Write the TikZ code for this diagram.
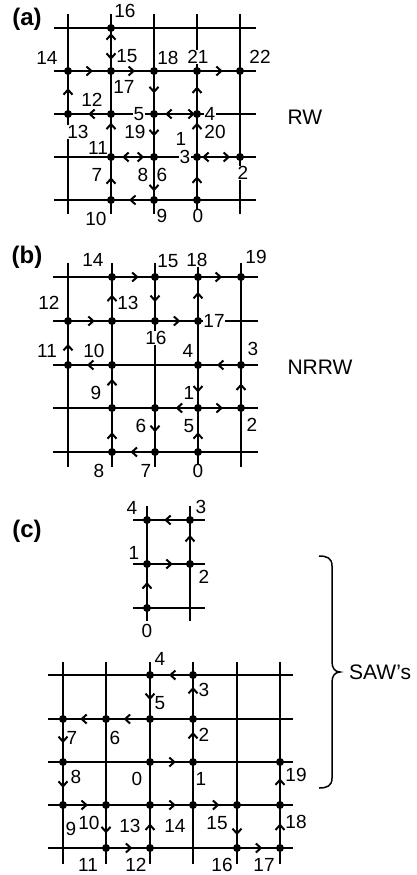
\documentclass[tikz,border=0pt]{standalone}
\usepackage{fontspec}
\setmainfont{Liberation Sans}
\usetikzlibrary{calc,arrows.meta}

% one step of a walk: line from a site to a fraction of the way to the next site
\newcommand\wstep[3][0.6]{\draw[walk] (#2) -- ($(#2)!#1!(#3)$);}
% a step taken forth and back along the same bond
\newcommand\wback[4]{\draw[walkback] ($(#1)!#3!(#2)$) -- ($(#1)!#4!(#2)$);}

\tikzset{
  grid/.style={line width=2pt},
  barb/.tip={Straight Barb[length=5pt,width=9pt]},
  walk/.style={line width=2pt,-barb},
  walkback/.style={line width=2pt,barb-barb},
  lab/.style={fill=white,inner sep=0.4pt,font=\fontsize{19}{19}\selectfont},
  title/.style={inner sep=0pt,font=\fontsize{21}{21}\selectfont},
  panel/.style={inner sep=0pt,font=\fontsize{24}{24}\selectfont\bfseries},
  site/.style={radius=4pt},
}

\begin{document}
\begin{tikzpicture}[x=1pt,y=-1pt]
\useasboundingbox (0,0) rectangle (416,875);

% ---------------- lattice sites ----------------
\foreach \i/\x in {0/68,1/111,2/154,3/197,4/240}
  \foreach \j/\y in {0/28,1/71,2/114,3/157,4/200}
    \coordinate (pa-\i-\j) at (\x,\y);
\foreach \i/\x in {0/68,1/112,2/155,3/198,4/241}
  \foreach \j/\y in {0/277,1/321,2/365,3/408,4/452}
    \coordinate (pb-\i-\j) at (\x,\y);
\foreach \i/\x in {0/147,1/190}
  \foreach \j/\y in {0/520,1/564,2/608}
    \coordinate (pc-\i-\j) at (\x,\y);
\foreach \i/\x in {0/63,1/106,2/150,3/193,4/237,5/280}
  \foreach \j/\y in {0/675,1/719,2/762,3/805,4/848}
    \coordinate (pd-\i-\j) at (\x,\y);

% ---------------- grid lines ----------------
\foreach \j in {0,...,4} \draw[grid] ([xshift=-14pt]pa-0-\j) -- ([xshift=16pt]pa-4-\j);
\foreach \i in {0,...,4} \draw[grid] ([yshift=14pt]pa-\i-0) -- ([yshift=-14pt]pa-\i-4);
\foreach \j in {0,...,4} \draw[grid] ([xshift=-15pt]pb-0-\j) -- ([xshift=17pt]pb-4-\j);
\foreach \i in {0,...,4} \draw[grid] ([yshift=14pt]pb-\i-0) -- ([yshift=-15pt]pb-\i-4);
\foreach \j in {0,...,2} \draw[grid] ([xshift=-14pt]pc-0-\j) -- ([xshift=15pt]pc-1-\j);
\foreach \i in {0,1} \draw[grid] ([yshift=14pt]pc-\i-0) -- ([yshift=-13pt]pc-\i-2);
\foreach \j in {0,...,4} \draw[grid] ([xshift=-15pt]pd-0-\j) -- ([xshift=13pt]pd-5-\j);
\foreach \i in {0,...,5} \draw[grid] ([yshift=13pt]pd-\i-0) -- ([yshift=-16pt]pd-\i-4);

% ---------------- panel (a): random walk ----------------
\node[panel] (pa) at (27,19) {(a)};
\node[title] (rw) at (305,117) {RW};
\node[lab] (la16) at (125,11) {16};
\node[lab] (la14) at (47,58) {14};
\node[lab] (la15) at (127,56) {15};
\node[lab] (la18) at (168,58) {18};
\node[lab] (la21) at (198,57) {21};
\node[lab] (la22) at (260,57) {22};
\node[lab] (la17) at (124,87) {17};
\node[lab] (la12) at (92,100) {12};
\node[lab] (la5) at (139,114) {5};
\node[lab] (la4) at (210,114) {4};
\node[lab] (la13) at (78,132) {13};
\node[lab] (la19) at (135,132) {19};
\node[lab] (la1) at (181,139) {1};
\node[lab] (la20) at (215,132) {20};
\node[lab] (la11) at (98,148) {11};
\node[lab] (la3) at (185,157) {3};
\node[lab] (la7) at (97,175) {7};
\node[lab] (la8) at (143,175) {8};
\node[lab] (la6) at (162,175) {6};
\node[lab] (la2) at (243,173) {2};
\node[lab] (la10) at (96,219) {10};
\node[lab] (la9) at (162,216) {9};
\node[lab] (la0) at (198,216) {0};

\wstep[0.55]{pa-3-4}{pa-3-3}
\wback{pa-3-3}{pa-4-3}{0.12}{0.77}
\wstep[0.8]{pa-3-3}{pa-3-2}
\wback{pa-2-2}{pa-3-2}{0.26}{0.95}
\wstep[0.52]{pa-2-2}{pa-2-3}
\wback{pa-1-3}{pa-2-3}{0.26}{0.77}
\wstep[0.8]{pa-2-3}{pa-2-4}
\wstep[0.58]{pa-2-4}{pa-1-4}
\wstep[0.53]{pa-1-4}{pa-1-3}
\wstep[0.8]{pa-1-3}{pa-1-2}
\wstep[0.53]{pa-1-2}{pa-0-2}
\wstep[0.6]{pa-0-2}{pa-0-1}
\wstep[0.58]{pa-0-1}{pa-1-1}
\wback{pa-1-0}{pa-1-1}{0.12}{0.74}
\wstep[0.56]{pa-1-1}{pa-2-1}
\wstep[0.52]{pa-2-1}{pa-2-2}
\wstep[0.64]{pa-3-2}{pa-3-1}
\wstep[0.6]{pa-3-1}{pa-4-1}
\foreach \s in {3-4,3-3,4-3,3-2,2-2,2-3,1-3,2-4,1-4,1-2,0-2,0-1,1-1,1-0,2-1,3-1,4-1}
  \fill[site] (pa-\s) circle;

% ---------------- panel (b): never-return random walk ----------------
\node[panel] (pb) at (27,257) {(b)};
\node[title] (nrrw) at (320,367) {NRRW};
\node[lab] (lb14) at (93,260) {14};
\node[lab] (lb15) at (168,261) {15};
\node[lab] (lb18) at (197,260) {18};
\node[lab] (lb19) at (256,257) {19};
\node[lab] (lb12) at (49,303) {12};
\node[lab] (lb13) at (128,303) {13};
\node[lab] (lb17) at (214,321) {17};
\node[lab] (lb16) at (156,338) {16};
\node[lab] (lb11) at (47,351) {11};
\node[lab] (lb10) at (94,351) {10};
\node[lab] (lb4) at (188,351) {4};
\node[lab] (lb3) at (253,349) {3};
\node[lab] (lb9) at (96,393) {9};
\node[lab] (lb1) at (189,393) {1};
\node[lab] (lb6) at (141,426) {6};
\node[lab] (lb5) at (189,426) {5};
\node[lab] (lb2) at (252,425) {2};
\node[lab] (lb8) at (99,471) {8};
\node[lab] (lb7) at (146,471) {7};
\node[lab] (lb0) at (198,471) {0};

\wstep[0.45]{pb-3-4}{pb-3-3}
\wstep[0.58]{pb-3-3}{pb-4-3}
\wstep[0.57]{pb-4-3}{pb-4-2}
\wstep[0.56]{pb-4-2}{pb-3-2}
\wstep[0.64]{pb-3-2}{pb-3-3}
\wstep[0.52]{pb-3-3}{pb-2-3}
\wstep[0.55]{pb-2-3}{pb-2-4}
\wstep[0.57]{pb-2-4}{pb-1-4}
\wstep[0.45]{pb-1-4}{pb-1-3}
\wstep[0.68]{pb-1-3}{pb-1-2}
\wstep[0.57]{pb-1-2}{pb-0-2}
\wstep[0.48]{pb-0-2}{pb-0-1}
\wstep[0.61]{pb-0-1}{pb-1-1}
\wstep[0.6]{pb-1-1}{pb-1-0}
\wstep[0.62]{pb-1-0}{pb-2-0}
\wstep[0.57]{pb-2-0}{pb-2-1}
\wstep[0.59]{pb-2-1}{pb-3-1}
\wstep[0.66]{pb-3-1}{pb-3-0}
\wstep[0.56]{pb-3-0}{pb-4-0}
\foreach \s in {1-0,2-0,3-0,4-0,0-1,1-1,2-1,3-1,0-2,1-2,3-2,4-2,1-3,2-3,3-3,4-3,1-4,2-4,3-4}
  \fill[site] (pb-\s) circle;

% ---------------- panel (c): self-avoiding walks ----------------
\node[panel] (pc) at (27,531) {(c)};
\node[lab] (lc4) at (132,508) {4};
\node[lab] (lc3) at (201,507) {3};
\node[lab] (lc1) at (134,553) {1};
\node[lab] (lc2) at (204,577) {2};
\node[lab] (lc0) at (147,631) {0};

\wstep[0.59]{pc-0-2}{pc-0-1}
\wstep[0.6]{pc-0-1}{pc-1-1}
\wstep[0.66]{pc-1-1}{pc-1-0}
\wstep[0.6]{pc-1-0}{pc-0-0}
\foreach \s in {0-0,1-0,0-1,1-1,0-2}
  \fill[site] (pc-\s) circle;

\node[lab] (ld4) at (160,659) {4};
\node[lab] (ld3) at (204,690) {3};
\node[lab] (ld5) at (160,703) {5};
\node[lab] (ld7) at (72,738) {7};
\node[lab] (ld6) at (115,738) {6};
\node[lab] (ld2) at (204,735) {2};
\node[lab] (ld8) at (76,777) {8};
\node[lab] (ld0) at (137,779) {0};
\node[lab] (ld1) at (201,779) {1};
\node[lab] (ld19) at (296,775) {19};
\node[lab] (ld9) at (71,829) {9};
\node[lab] (ld10) at (89,823) {10};
\node[lab] (ld13) at (130,826) {13};
\node[lab] (ld14) at (175,826) {14};
\node[lab] (ld15) at (217,823) {15};
\node[lab] (ld18) at (296,822) {18};
\node[lab] (ld11) at (88,865) {11};
\node[lab] (ld12) at (136,865) {12};
\node[lab] (ld16) at (222,865) {16};
\node[lab] (ld17) at (264,865) {17};

\wstep[0.6]{pd-2-2}{pd-3-2}
\wstep[0.7]{pd-3-2}{pd-3-1}
\wstep[0.73]{pd-3-1}{pd-3-0}
\wstep[0.56]{pd-3-0}{pd-2-0}
\wstep[0.57]{pd-2-0}{pd-2-1}
\wstep[0.6]{pd-2-1}{pd-1-1}
\wstep[0.6]{pd-1-1}{pd-0-1}
\wstep[0.56]{pd-0-1}{pd-0-2}
\wstep[0.6]{pd-0-2}{pd-0-3}
\wstep[0.58]{pd-0-3}{pd-1-3}
\wstep[0.66]{pd-1-3}{pd-1-4}
\wstep[0.6]{pd-1-4}{pd-2-4}
\wstep[0.57]{pd-2-4}{pd-2-3}
\wstep[0.6]{pd-2-3}{pd-3-3}
\wstep[0.6]{pd-3-3}{pd-4-3}
\wstep[0.7]{pd-4-3}{pd-4-4}
\wstep[0.59]{pd-4-4}{pd-5-4}
\wstep[0.57]{pd-5-4}{pd-5-3}
\wstep[0.62]{pd-5-3}{pd-5-2}
\foreach \s in {2-0,3-0,0-1,1-1,2-1,3-1,0-2,2-2,3-2,5-2,0-3,1-3,2-3,3-3,4-3,5-3,1-4,2-4,4-4,5-4}
  \fill[site] (pd-\s) circle;

% brace grouping the two self-avoiding walks
\node[title,anchor=west] (saw) at (349,672) {SAW’s};
\coordinate (btip) at (340,672);
\draw[line width=1.5pt] (319,556) .. controls (327,556) and (332,558) .. (332,566)
  -- (332,662) .. controls (332,668) and (335,672) .. (btip)
  .. controls (335,672) and (332,676) .. (332,682)
  -- (332,778) .. controls (332,786) and (327,788) .. (319,788);
\end{tikzpicture}
\end{document}
